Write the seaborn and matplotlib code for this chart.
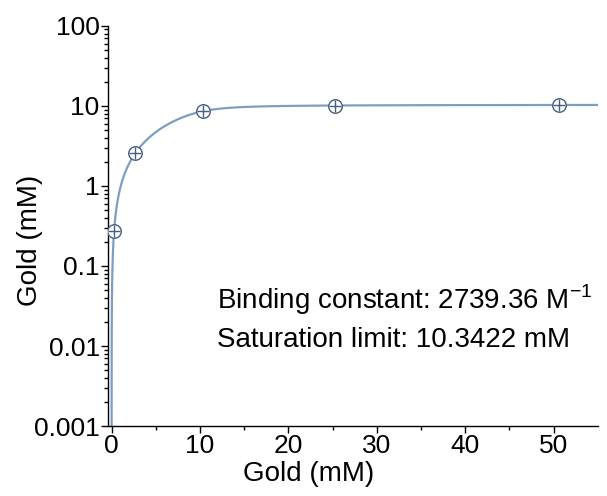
import numpy as np
import pandas as pd
import matplotlib
matplotlib.use("Agg")
import matplotlib.pyplot as plt
import seaborn as sns

# measured points
gold_added = [0.27, 2.7, 10.3, 25.3, 50.6]
gold_bound = [0.27, 2.6, 8.7, 10.1, 10.35]

# fit parameters (shown on the chart)
binding_constant = 2739.36   # M^-1
saturation_limit = 10.3422   # mM

sns.set_theme(style="ticks")
plt.rcParams['font.family'] = ['Liberation Sans', 'DejaVu Sans']
plt.rcParams['mathtext.fontset'] = 'custom'
plt.rcParams['mathtext.rm'] = 'Liberation Sans'
plt.rcParams['text.color'] = 'black'
plt.rcParams['axes.labelcolor'] = 'black'
plt.rcParams['xtick.color'] = 'black'
plt.rcParams['ytick.color'] = 'black'

# tight-binding fit curve from the fit parameters
kd = 1000.0 / binding_constant  # mM
x_fit = np.concatenate([np.geomspace(1e-6, 0.5, 300), np.linspace(0.5, 55, 600)])
a = x_fit + saturation_limit + kd
y_fit = (a - np.sqrt(a ** 2 - 4 * x_fit * saturation_limit)) / 2
fit_df = pd.DataFrame({"x": x_fit, "y": y_fit})
pts_df = pd.DataFrame({"x": gold_added, "y": gold_bound})

fig = plt.figure(figsize=(6.07, 4.96), dpi=100)
ax = fig.add_axes([0.178, 0.141, 0.807, 0.807])

sns.lineplot(data=fit_df, x="x", y="y", ax=ax, color="#7d9ec2", lw=1.6,
             sort=False, estimator=None)
sns.scatterplot(data=pts_df, x="x", y="y", ax=ax, marker="o", s=95,
                facecolor="white", edgecolor="#465f80", linewidth=1.0, zorder=3)
ax.scatter(pts_df["x"], pts_df["y"], marker="+", s=70, color="#465f80",
           linewidth=1.0, zorder=4)

ax.set_yscale("log")
ax.set_ylim(0.001, 100)
ax.set_xlim(-0.4, 55)
ax.set_xticks([0, 10, 20, 30, 40, 50])
ax.set_xticks([5, 15, 25, 35, 45], minor=True)
ax.set_yticks([0.001, 0.01, 0.1, 1, 10, 100])
ax.set_yticklabels(["0.001", "0.01", "0.1", "1", "10", "100"])

for s in ["top", "right"]:
    ax.spines[s].set_visible(False)
for s in ["left", "bottom"]:
    ax.spines[s].set_linewidth(1.0)
    ax.spines[s].set_color("black")

ax.tick_params(axis="both", which="major", labelsize=19, length=5, width=1,
               color="black", labelcolor="black", pad=1)
ax.tick_params(axis="both", which="minor", length=3, width=1, color="black")

ax.set_xlabel("Gold (mM)", fontsize=20, color="black")
ax.set_ylabel("Gold (mM)", fontsize=20, color="black")
ax.xaxis.set_label_coords(0.41, -0.12)
ax.yaxis.set_label_coords(-0.16, 0.465)
ax.xaxis.label.set_va("center")
ax.yaxis.label.set_va("center")

ax.text(0.222, 0.315, "Binding constant: 2739.36 M$^{\\mathrm{-1}}$",
        transform=ax.transAxes, fontsize=20, va="center", ha="left", color="black")
ax.text(0.222, 0.215, "Saturation limit: 10.3422 mM",
        transform=ax.transAxes, fontsize=20, va="center", ha="left", color="black")

fig.savefig("out.png", dpi=100)
